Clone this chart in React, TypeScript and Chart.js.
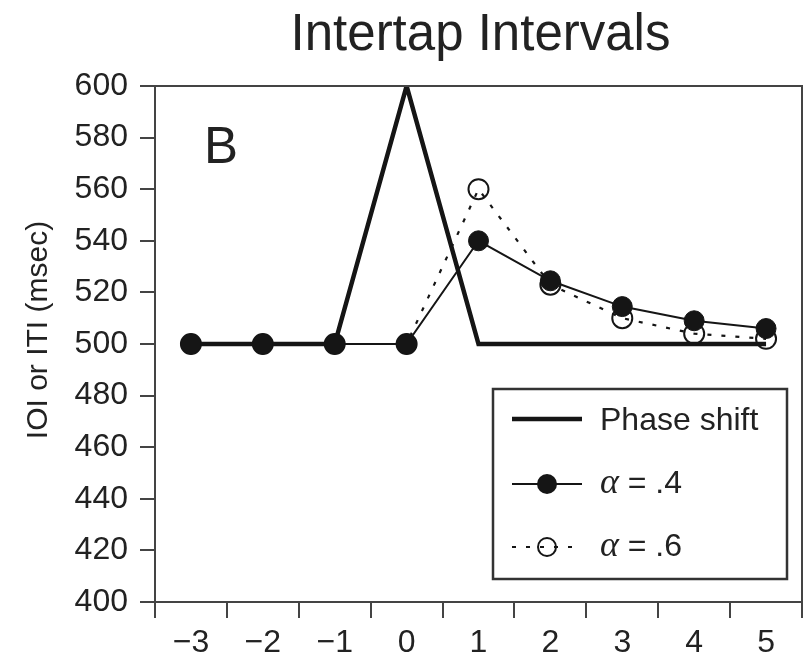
import React, { useEffect, useRef } from "react";
import { Chart, registerables } from "chart.js";

Chart.register(...registerables);

// ---- data ----
const categories = ["−3", "−2", "−1", "0", "1", "2", "3", "4", "5"];
const phaseShift = [500, 500, 500, 600, 500, 500, 500, 500, 500];
const alpha04 = [500, 500, 500, 500, 540, 524.5, 514.5, 509, 506];
const alpha06 = [500, 500, 500, 500, 560, 523, 510, 504, 502];
const yMin = 400;
const yMax = 600;
const yStep = 20;
const titleText = "Intertap Intervals";
const yAxisTitle = "IOI or ITI (msec)";
const panelLabel = "B";
const legendNames = ["Phase shift", "= .4", "= .6"];
const legendGreek = "α";

// ---- style ----
const SANS = '"Liberation Sans", Arial, Helvetica, sans-serif';
const SERIF = '"Liberation Serif", "Times New Roman", serif';
const INK = "#151515";
const AXIS = "#444444";
const TEXT = "#222222";
const DASH = [4, 10];
const CANVAS_W = 814; // wider than the window; the extra strip is clipped by the wrapper

const decor = {
  id: "decor",
  afterDatasetsDraw(chart: any) {
    const { ctx, chartArea: ca } = chart;
    ctx.save();
    // top and right frame
    ctx.strokeStyle = AXIS;
    ctx.lineWidth = 2;
    ctx.beginPath();
    ctx.moveTo(ca.left, ca.top);
    ctx.lineTo(ca.right, ca.top);
    ctx.lineTo(ca.right, ca.bottom);
    ctx.stroke();

    // title
    ctx.fillStyle = TEXT;
    ctx.font = `51px ${SANS}`;
    ctx.textAlign = "center";
    ctx.textBaseline = "alphabetic";
    ctx.fillText(titleText, (ca.left + ca.right) / 2 + 2, 50);

    // y axis title (rotated)
    ctx.save();
    ctx.translate(47, (ca.top + ca.bottom) / 2 - 14);
    ctx.rotate(-Math.PI / 2);
    ctx.font = `30px ${SANS}`;
    ctx.textAlign = "center";
    ctx.fillText(yAxisTitle, 0, 0);
    ctx.restore();

    // panel label
    ctx.font = `51px ${SANS}`;
    ctx.textAlign = "left";
    ctx.fillText(panelLabel, ca.left + 49, ca.top + 77);

    // legend box
    const bx = ca.right - 309;
    const by = ca.bottom - 213;
    const bw = 294;
    const bh = 190;
    ctx.fillStyle = "#ffffff";
    ctx.fillRect(bx, by, bw, bh);
    ctx.strokeStyle = "#333333";
    ctx.lineWidth = 2.5;
    ctx.strokeRect(bx, by, bw, bh);

    const sx0 = bx + 19;
    const sx1 = bx + 89;
    const mx = bx + 54;
    const tx = bx + 107;
    const rows = [by + 30, by + 95, by + 158];
    const bases = [by + 41, by + 104, by + 167];
    const ds = chart.data.datasets;

    // row 1: phase shift
    ctx.strokeStyle = ds[0].borderColor;
    ctx.lineWidth = ds[0].borderWidth;
    ctx.setLineDash([]);
    ctx.beginPath();
    ctx.moveTo(sx0, rows[0]);
    ctx.lineTo(sx1, rows[0]);
    ctx.stroke();

    // row 2: alpha .4
    ctx.lineWidth = ds[1].borderWidth;
    ctx.strokeStyle = ds[1].borderColor;
    ctx.beginPath();
    ctx.moveTo(sx0, rows[1]);
    ctx.lineTo(sx1, rows[1]);
    ctx.stroke();
    ctx.fillStyle = ds[1].pointBackgroundColor;
    ctx.beginPath();
    ctx.arc(mx, rows[1], ds[1].pointRadius, 0, Math.PI * 2);
    ctx.fill();

    // row 3: alpha .6
    ctx.lineWidth = ds[2].borderWidth;
    ctx.strokeStyle = ds[2].borderColor;
    ctx.setLineDash(DASH);
    ctx.beginPath();
    ctx.moveTo(sx0, rows[2]);
    ctx.lineTo(sx1, rows[2]);
    ctx.stroke();
    ctx.setLineDash([]);
    ctx.lineWidth = ds[2].pointBorderWidth;
    ctx.beginPath();
    ctx.arc(mx, rows[2], ds[2].pointRadius - 1, 0, Math.PI * 2);
    ctx.stroke();

    // legend texts
    ctx.fillStyle = TEXT;
    ctx.textAlign = "left";
    ctx.textBaseline = "alphabetic";
    ctx.font = `32px ${SANS}`;
    ctx.fillText(legendNames[0], tx, bases[0]);
    for (let i = 1; i < 3; i++) {
      ctx.font = `italic 36px ${SERIF}`;
      ctx.fillText(legendGreek, tx, bases[i]);
      const w = ctx.measureText(legendGreek).width;
      ctx.font = `32px ${SANS}`;
      ctx.fillText(" " + legendNames[i], tx + w, bases[i]);
    }
    ctx.restore();
  },
};

export default function App() {
  const ref = useRef<HTMLCanvasElement | null>(null);

  useEffect(() => {
    const canvas = ref.current;
    if (!canvas) return;
    const chart = new Chart(canvas, {
      type: "line",
      data: {
        labels: categories,
        datasets: [
          {
            label: "Phase shift",
            data: phaseShift,
            borderColor: INK,
            borderWidth: 4.5,
            pointRadius: 0,
            fill: false,
            tension: 0,
            order: 2,
          },
          {
            label: "α = .4",
            data: alpha04,
            borderColor: INK,
            borderWidth: 2,
            pointRadius: 10,
            pointBackgroundColor: INK,
            pointBorderColor: INK,
            pointBorderWidth: 1,
            fill: false,
            tension: 0,
            order: 0,
          },
          {
            label: "α = .6",
            data: alpha06,
            borderColor: INK,
            borderWidth: 2.2,
            borderDash: DASH,
            pointRadius: 10,
            pointBackgroundColor: "rgba(255,255,255,0)",
            pointBorderColor: INK,
            pointBorderWidth: 2,
            fill: false,
            tension: 0,
            order: 1,
          },
        ] as any,
      },
      options: {
        responsive: false,
        animation: false,
        devicePixelRatio: 1,
        layout: { padding: { top: 86, right: 2, left: 0, bottom: 0 } },
        plugins: {
          legend: { display: false },
          tooltip: { enabled: false },
          title: { display: false },
        },
        scales: {
          x: {
            type: "category",
            offset: true,
            grid: {
              offset: true,
              drawOnChartArea: false,
              drawTicks: true,
              tickLength: 16,
              color: AXIS,
              lineWidth: 2,
            },
            border: { display: true, color: AXIS, width: 2 },
            ticks: {
              color: TEXT,
              font: { family: SANS, size: 32 },
              padding: 6,
              maxRotation: 0,
              autoSkip: false,
            },
            afterFit: (scale: any) => {
              scale.height = 57;
            },
          },
          y: {
            type: "linear",
            min: yMin,
            max: yMax,
            grid: {
              drawOnChartArea: false,
              drawTicks: true,
              tickLength: 15,
              color: AXIS,
              lineWidth: 2,
            },
            border: { display: true, color: AXIS, width: 2 },
            ticks: {
              stepSize: yStep,
              color: TEXT,
              font: { family: SANS, size: 32 },
              padding: 12,
            },
            afterFit: (scale: any) => {
              scale.width = 155;
            },
          },
        },
      } as any,
      plugins: [decor],
    });
    return () => chart.destroy();
  }, []);

  return (
    <div
      style={{
        position: "absolute",
        left: 0,
        top: 0,
        width: 804,
        height: 659,
        overflow: "hidden",
        background: "#ffffff",
      }}
    >
      <canvas
        ref={ref}
        width={CANVAS_W}
        height={659}
        style={{ width: CANVAS_W, height: 659, display: "block" }}
      />
    </div>
  );
}
